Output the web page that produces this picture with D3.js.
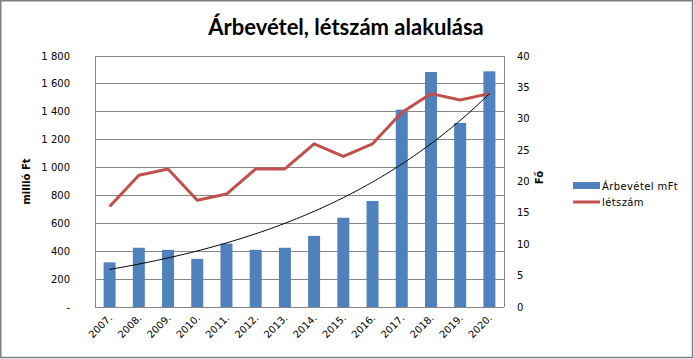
<!DOCTYPE html>
<html><head><meta charset="utf-8">
<script src="https://cdn.jsdelivr.net/npm/d3@7"></script>
<style>body{margin:0;background:#fff}svg{display:block}</style>
</head><body>
<script>
const years = ["2007.","2008.","2009.","2010.","2011.","2012.","2013.","2014.","2015.","2016.","2017.","2018.","2019.","2020."];
const revenue = [320,425,410,345,455,410,425,510,640,760,1415,1685,1320,1690];
const headcount = [16,21,22,17,18,22,22,26,24,26,31,34,33,34];
const leftTicks = [0,200,400,600,800,1000,1200,1400,1600,1800];
const rightTicks = [0,5,10,15,20,25,30,35,40];
const title = "Árbevétel, létszám alakulása";
const seriesNames = ["Árbevétel mFt","létszám"];

const W=694,H=359;
const svg=d3.select("body").append("svg").attr("width",W).attr("height",H);
svg.append("rect").attr("x",0.75).attr("y",0.75).attr("width",691.75).attr("height",356.75)
  .attr("fill","#fff").attr("stroke","#7f7f7f").attr("stroke-width",1.5);

const L=95,R=504,T=56,B=307;
const x=d3.scaleBand().domain(years).range([L,R]).paddingInner(0.59).paddingOuter(0.295);
const xc=d3.scaleBand().domain(years).range([L,R]);
const yL=d3.scaleLinear().domain([0,1800]).range([B,T]);
const yR=d3.scaleLinear().domain([0,40]).range([B,T]);
const font="Tahoma, 'DejaVu Sans', sans-serif";

// gridlines
svg.append("g").selectAll("line").data(leftTicks).join("line")
  .attr("x1",L).attr("x2",R).attr("y1",d=>yL(d)).attr("y2",d=>yL(d))
  .attr("stroke","#868686").attr("stroke-width",1).attr("shape-rendering","crispEdges");

// bars
svg.append("g").selectAll("rect").data(revenue).join("rect")
  .attr("x",(d,i)=>x(years[i])).attr("width",x.bandwidth())
  .attr("y",d=>yL(d)).attr("height",d=>B-yL(d)).attr("fill","#4f81bd");

// axes lines
svg.append("line").attr("x1",L).attr("x2",L).attr("y1",T).attr("y2",B).attr("stroke","#868686").attr("shape-rendering","crispEdges");
svg.append("line").attr("x1",R).attr("x2",R).attr("y1",T).attr("y2",B).attr("stroke","#868686").attr("shape-rendering","crispEdges");
svg.append("line").attr("x1",L).attr("x2",R).attr("y1",B).attr("y2",B).attr("stroke","#868686").attr("shape-rendering","crispEdges");

// headcount line
const line=d3.line().x((d,i)=>xc(years[i])+xc.bandwidth()/2).y(d=>yR(d));
svg.append("path").datum(headcount).attr("d",line).attr("fill","none")
  .attr("stroke","#c0504d").attr("stroke-width",3).attr("stroke-linejoin","round");

// exponential trendline (least squares on ln of revenue)
const n=revenue.length;
const xs=d3.range(1,n+1), ls=revenue.map(Math.log);
const mx=d3.mean(xs), my=d3.mean(ls);
const b=d3.sum(xs.map((v,i)=>(v-mx)*(ls[i]-my)))/d3.sum(xs.map(v=>(v-mx)*(v-mx)));
const a=my-b*mx;
const trend=d3.range(1,n+0.001,0.1).map(t=>[t,Math.exp(a+b*t)]);
const tx=t=>xc(years[0])+xc.bandwidth()/2+(t-1)*xc.bandwidth();
svg.append("path").datum(trend).attr("d",d3.line().x(d=>tx(d[0])).y(d=>yL(d[1])))
  .attr("fill","none").attr("stroke","#000").attr("stroke-width",1);

// left axis labels
svg.append("g").selectAll("text").data(leftTicks).join("text")
  .attr("x",70).attr("y",d=>yL(d)).attr("dy","0.35em").attr("text-anchor","end")
  .attr("font-family",font).attr("font-size",10).attr("fill","#000")
  .text(d=>d===0?"-":d3.format(",")(d).replace(/,/g," "));
// right axis labels
svg.append("g").selectAll("text").data(rightTicks).join("text")
  .attr("x",517).attr("y",d=>yR(d)).attr("dy","0.35em").attr("text-anchor","start")
  .attr("font-family",font).attr("font-size",10).attr("fill","#000").text(d=>d);
// x labels
svg.append("g").selectAll("text").data(years).join("text")
  .attr("transform",d=>`translate(${xc(d)+xc.bandwidth()/2+1},${B+9}) rotate(-45)`)
  .attr("text-anchor","end").attr("dy","0.35em")
  .attr("font-family",font).attr("font-size",10).attr("fill","#000").text(d=>d);

// axis titles
svg.append("text").attr("transform",`translate(30,${(T+B)/2}) rotate(-90)`).attr("text-anchor","middle")
  .attr("font-family",font).attr("font-size",10).attr("font-weight","bold").text("millió Ft");
svg.append("text").attr("transform",`translate(543,${(T+B)/2-4}) rotate(-90)`).attr("text-anchor","middle")
  .attr("font-family",font).attr("font-size",10).attr("font-weight","bold").text("Fő");

// title
svg.append("text").attr("x",346).attr("y",35).attr("text-anchor","middle")
  .attr("font-family","Lato, 'Open Sans', sans-serif").attr("font-size",22).attr("font-weight","bold")
  .attr("fill","#000").text(title);

// legend
const lg=svg.append("g");
lg.append("rect").attr("x",573).attr("y",182).attr("width",27).attr("height",7).attr("fill","#4f81bd");
lg.append("line").attr("x1",573).attr("x2",600).attr("y1",202).attr("y2",202).attr("stroke","#c0504d").attr("stroke-width",3);
lg.selectAll("text").data(seriesNames).join("text")
  .attr("x",602).attr("y",(d,i)=>186+i*16).attr("dy","0.35em").attr("letter-spacing",0.4)
  .attr("font-family",font).attr("font-size",10).attr("fill","#000").text(d=>d);
</script>
</body></html>
